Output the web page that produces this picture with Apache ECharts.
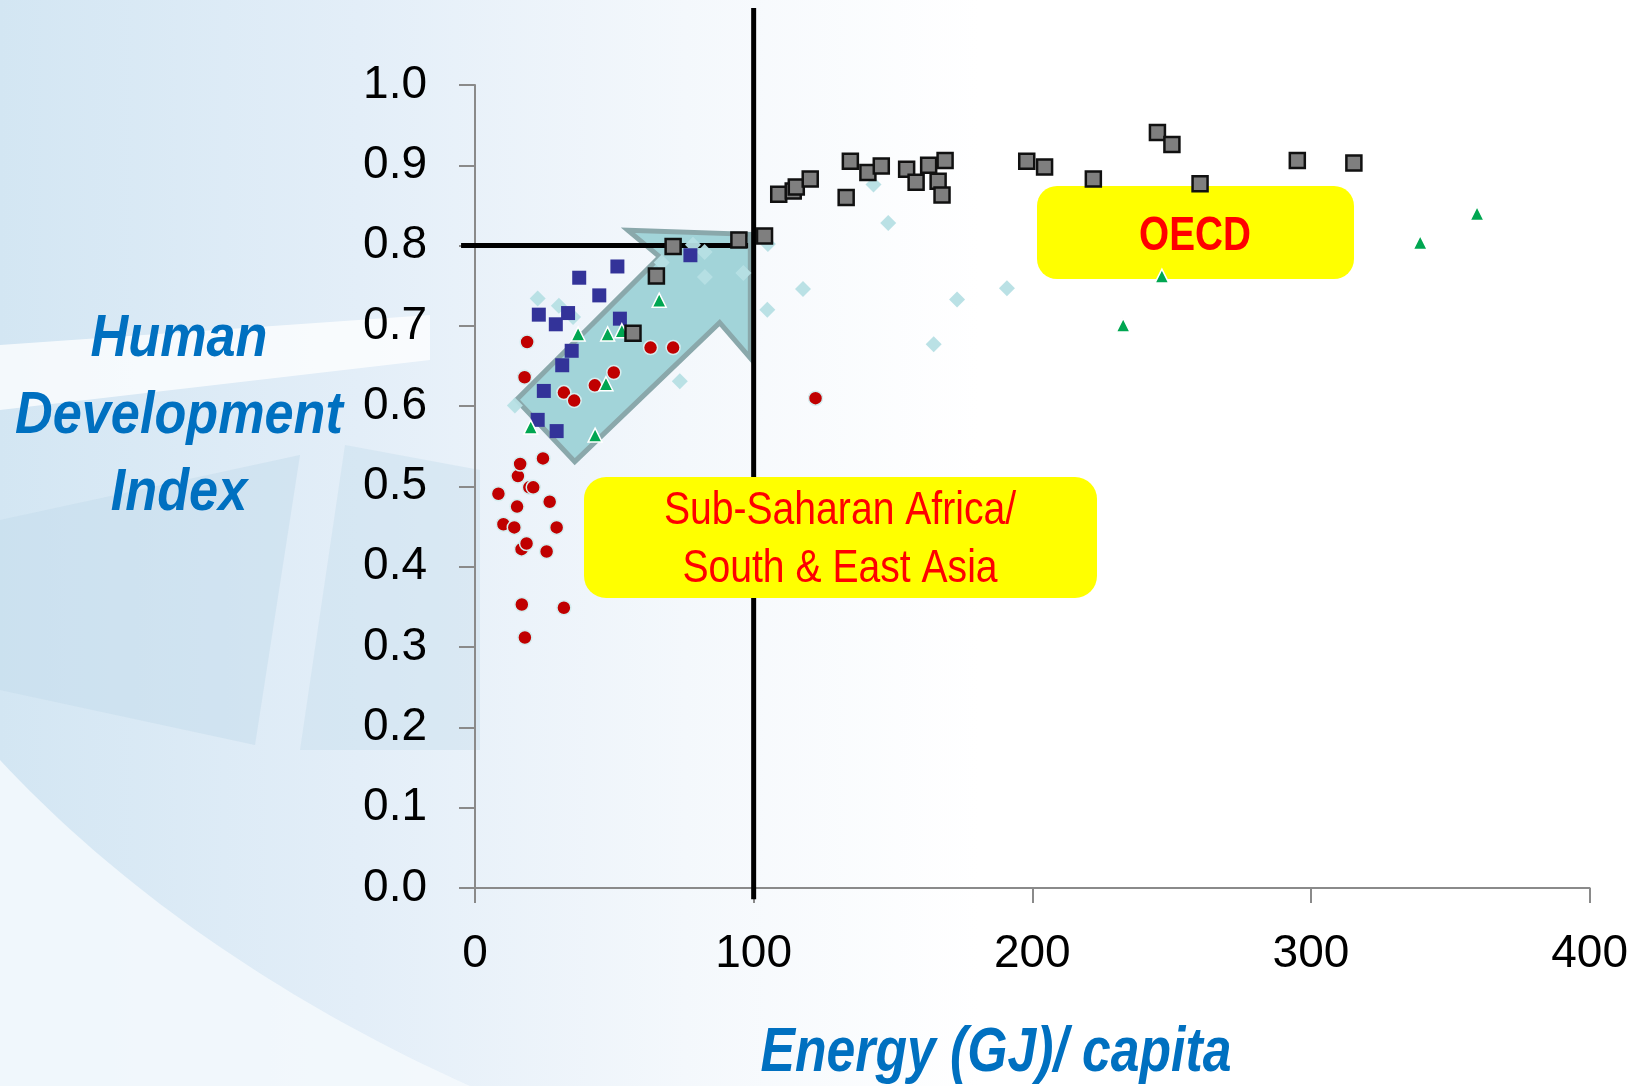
<!DOCTYPE html>
<html>
<head>
<meta charset="utf-8">
<title>Human Development Index vs Energy per capita</title>
<script src="https://cdn.jsdelivr.net/npm/echarts@6/dist/echarts.min.js"></script>
<style>
  html, body { margin: 0; padding: 0; background: #ffffff; }
  #chart { width: 1631px; height: 1086px; }
</style>
</head>
<body>
<div id="chart"></div>
<script>
// ---- data: [energy GJ per capita, HDI] ----
const oecdCountries = [
  [56.7, 0.691], [65.1, 0.762], [71.1, 0.799], [94.7, 0.807], [103.9, 0.812],
  [109.0, 0.864], [114.2, 0.868], [115.3, 0.873], [120.3, 0.883], [133.2, 0.860],
  [134.7, 0.905], [141.0, 0.891], [145.8, 0.899], [154.9, 0.895], [158.3, 0.879],
  [162.8, 0.900], [166.2, 0.880], [167.6, 0.863], [168.7, 0.906], [198.0, 0.905],
  [204.4, 0.898], [221.9, 0.883], [244.9, 0.941], [250.1, 0.926], [260.2, 0.877],
  [295.1, 0.906], [315.4, 0.903]
];
const asiaCountries = [
  [22.5, 0.583], [24.7, 0.619], [29.3, 0.569], [22.9, 0.714], [29.0, 0.702],
  [33.4, 0.716], [31.3, 0.651], [34.7, 0.669], [37.4, 0.760], [44.6, 0.738],
  [51.1, 0.774], [52.0, 0.709], [77.3, 0.788]
];
const latinCountries = [
  [14.3, 0.601], [22.5, 0.734], [30.1, 0.725], [35.2, 0.711], [67.0, 0.779],
  [73.5, 0.631], [78.2, 0.801], [82.4, 0.792], [82.5, 0.761], [96.3, 0.766],
  [104.9, 0.720], [105.1, 0.802], [117.7, 0.746], [143.0, 0.876], [148.3, 0.828],
  [164.6, 0.677], [173.0, 0.733], [190.9, 0.747]
];
const transitionCountries = [
  [20.0, 0.574], [37.0, 0.690], [43.1, 0.564], [47.0, 0.628], [47.6, 0.690],
  [52.7, 0.694], [66.1, 0.732], [232.6, 0.701], [246.5, 0.762], [339.2, 0.804],
  [359.6, 0.840]
];
const africaCountries = [
  [8.4, 0.491], [10.2, 0.453], [14.1, 0.449], [15.1, 0.475], [15.4, 0.513],
  [16.2, 0.528], [16.7, 0.422], [18.5, 0.429], [16.8, 0.353], [17.9, 0.312],
  [17.8, 0.636], [18.7, 0.680], [19.5, 0.499], [20.9, 0.499], [24.4, 0.535],
  [25.7, 0.419], [26.8, 0.481], [29.3, 0.449], [31.9, 0.349], [31.9, 0.617],
  [35.6, 0.607], [43.0, 0.626], [49.8, 0.642], [63.0, 0.673], [71.1, 0.673],
  [122.2, 0.610]
];

// threshold guides: 100 GJ per capita and HDI 0.8 (start and end points)
const thresholdGuides = [
  [[100, -0.014], [100, 1.096]],
  [[-5, 0.8], [98, 0.8]]
];

// outline of the development arrow, in data units
const arrowOutline = [
  [54.9, 0.819], [66.3, 0.786], [14.9, 0.608], [35.8, 0.531],
  [87.8, 0.704], [98.8, 0.660], [98.8, 0.814]
];

const xTickLabels = ['0', '100', '200', '300', '400'];
const yTickLabels = ['0.0', '0.1', '0.2', '0.3', '0.4', '0.5', '0.6', '0.7', '0.8', '0.9', '1.0'];

const SANS = "'Liberation Sans', Arial, sans-serif";
const TITLE_BLUE = '#0070c0';

// sampled cubic curve for the background swoosh
function curvePoints(p0, p1, p2, p3, steps) {
  const out = [];
  for (let i = 0; i <= steps; i++) {
    const t = i / steps, u = 1 - t;
    out.push([
      u * u * u * p0[0] + 3 * u * u * t * p1[0] + 3 * u * t * t * p2[0] + t * t * t * p3[0],
      u * u * u * p0[1] + 3 * u * u * t * p1[1] + 3 * u * t * t * p2[1] + t * t * t * p3[1]
    ]);
  }
  return out;
}
const swoosh = curvePoints([0, 760], [130, 900], [300, 1010], [470, 1086], 40).concat([[0, 1086]]);

const chart = echarts.init(document.getElementById('chart'), null, { renderer: 'canvas' });

// condensed-looking text: regular face squeezed horizontally
function squeezedText(x, y, text, size, scaleX, extra) {
  return {
    type: 'text', z: 3, silent: true, x: x, y: y, scaleX: scaleX, scaleY: 1,
    style: Object.assign({
      text: text, fontFamily: SANS, fontSize: size,
      align: 'center', verticalAlign: 'middle'
    }, extra)
  };
}

const option = {
  backgroundColor: '#ffffff',
  animation: false,
  grid: { left: 475, right: 40, top: 85, bottom: 198, containLabel: false },
  xAxis: {
    type: 'value', min: 0, max: 400, interval: 100,
    axisLine: { show: true, onZero: false, lineStyle: { color: '#8a8a8a', width: 2 } },
    axisTick: { show: true, length: 15, lineStyle: { color: '#8a8a8a', width: 2 } },
    splitLine: { show: false },
    axisLabel: {
      margin: 43, color: '#000', fontFamily: SANS, fontSize: 46,
      formatter: (v) => xTickLabels[Math.round(v / 100)]
    }
  },
  yAxis: {
    type: 'value', min: 0, max: 1, interval: 0.1,
    axisLine: { show: true, onZero: false, lineStyle: { color: '#8a8a8a', width: 2 } },
    axisTick: { show: true, length: 16, lineStyle: { color: '#8a8a8a', width: 2 } },
    splitLine: { show: false },
    axisLabel: {
      margin: 48, color: '#000', fontFamily: SANS, fontSize: 46,
      formatter: (v) => yTickLabels[Math.round(v * 10)]
    }
  },
  graphic: [
    // slide background wash
    {
      type: 'rect', z: -20, silent: true,
      shape: { x: 0, y: 0, width: 1631, height: 1086 },
      style: {
        fill: new echarts.graphic.LinearGradient(0, 0, 1, 0, [
          { offset: 0, color: '#d3e6f3' },
          { offset: 0.22, color: '#e3eef8' },
          { offset: 0.42, color: '#f4f8fc' },
          { offset: 0.6, color: '#ffffff' },
          { offset: 1, color: '#ffffff' }
        ])
      }
    },
    {
      type: 'polygon', z: -19, silent: true,
      shape: { points: [[0, 345], [430, 315], [430, 360], [0, 410]] },
      style: { fill: 'rgba(255,255,255,0.75)' }
    },
    {
      type: 'polygon', z: -19, silent: true,
      shape: { points: [[0, 520], [300, 455], [255, 745], [0, 690]] },
      style: { fill: 'rgba(196,220,236,0.5)' }
    },
    {
      type: 'polygon', z: -19, silent: true,
      shape: { points: [[345, 445], [480, 470], [480, 750], [300, 750]] },
      style: { fill: 'rgba(196,220,236,0.4)' }
    },
    {
      type: 'polygon', z: -18, silent: true,
      shape: { points: swoosh },
      style: { fill: 'rgba(244,249,253,0.85)' }
    },
    // region callouts
    {
      type: 'rect', z: 3, silent: true,
      shape: { x: 1037, y: 186, width: 317, height: 93, r: 20 },
      style: { fill: '#ffff00' }
    },
    squeezedText(1195, 236, 'OECD', 49, 0.79, { fill: '#ff0000', fontWeight: 'bold' }),
    {
      type: 'rect', z: 3, silent: true,
      shape: { x: 584, y: 477, width: 513, height: 121, r: 22 },
      style: { fill: '#ffff00' }
    },
    squeezedText(840, 540, 'Sub-Saharan Africa/\nSouth & East Asia', 47, 0.832,
      { fill: '#ff0000', lineHeight: 58 }),
    // axis titles
    squeezedText(179, 416, 'Human\nDevelopment\nIndex', 60, 0.87,
      { fill: TITLE_BLUE, fontWeight: 'bold', fontStyle: 'italic', lineHeight: 77 }),
    squeezedText(996, 1054, 'Energy (GJ)/ capita', 63, 0.82,
      { fill: TITLE_BLUE, fontWeight: 'bold', fontStyle: 'italic' })
  ],
  series: [
    {
      type: 'custom', name: 'arrow', z: 1, silent: true, clip: false,
      data: arrowOutline,
      renderItem: (params, api) => {
        if (params.dataIndex !== 0) return null;
        const pts = arrowOutline.map((p) => api.coord(p));
        return {
          type: 'polygon',
          shape: { points: pts },
          style: { fill: '#a2d4d9', stroke: '#8aa8ab', lineWidth: 5, lineJoin: 'miter' }
        };
      }
    },
    {
      type: 'custom', name: 'thresholds', z: 2, silent: true, clip: false,
      data: thresholdGuides.map((g, i) => [i]),
      renderItem: (params, api) => {
        const g = thresholdGuides[params.dataIndex];
        const a = api.coord(g[0]);
        const b = api.coord(g[1]);
        return {
          type: 'line',
          shape: { x1: a[0], y1: a[1], x2: b[0], y2: b[1] },
          style: { stroke: '#000', lineWidth: 5 }
        };
      }
    },
    {
      type: 'scatter', name: 'Latin America', z: 4, data: latinCountries,
      symbol: 'diamond', symbolSize: 16,
      itemStyle: { color: '#b6dfe4', opacity: 0.95 }
    },
    {
      type: 'scatter', name: 'Asia', z: 5, data: asiaCountries,
      symbol: 'rect', symbolSize: 14,
      itemStyle: { color: '#333399', opacity: 1 }
    },
    {
      type: 'scatter', name: 'Africa', z: 6, data: africaCountries,
      symbol: 'circle', symbolSize: 14,
      itemStyle: { color: '#c00000', borderColor: '#d5eef0', borderWidth: 1.5, opacity: 1 }
    },
    {
      type: 'scatter', name: 'Transition', z: 7, data: transitionCountries,
      symbol: 'triangle', symbolSize: 14,
      itemStyle: { color: '#00a651', borderColor: '#ffffff', borderWidth: 1.5, opacity: 1 }
    },
    {
      type: 'scatter', name: 'OECD', z: 8, data: oecdCountries,
      symbol: 'rect', symbolSize: 15,
      itemStyle: { color: '#7f7f7f', borderColor: '#111111', borderWidth: 2.5, opacity: 1 }
    }
  ]
};

chart.setOption(option);
</script>
</body>
</html>
